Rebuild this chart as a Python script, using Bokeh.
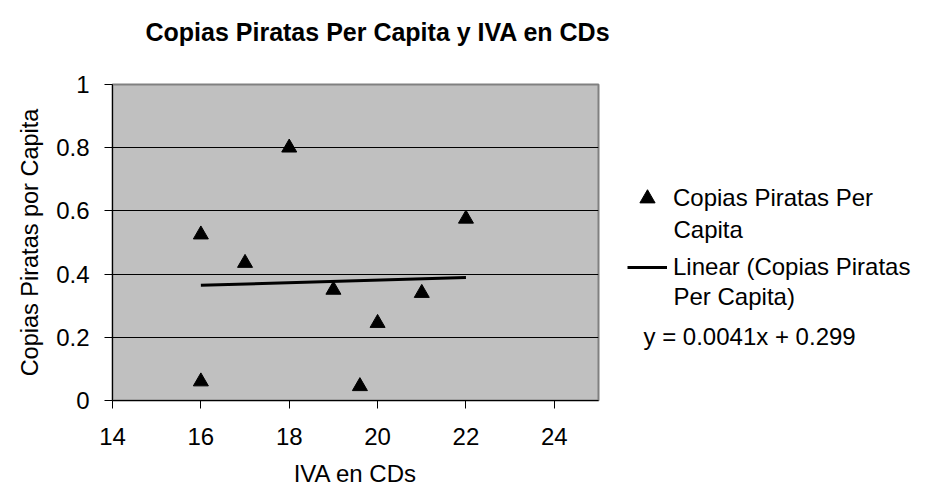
from bokeh.plotting import figure
from bokeh.layouts import row
from bokeh.models import (FixedTicker, NumeralTickFormatter, Legend, LegendItem,
                          Label, Range1d, Title)
from bokeh.embed import file_html
from bokeh.resources import INLINE

# ---- data ----
chart_title = "Copias Piratas Per Capita y IVA en CDs"
x_title = "IVA en CDs"
y_title = "Copias Piratas por Capita"
iva = [16, 16, 17, 18, 19, 19.6, 20, 21, 22]
copias = [0.525, 0.06, 0.435, 0.80, 0.35, 0.045, 0.245, 0.34, 0.575]
trend_slope = 0.0041
trend_intercept = 0.299
trend_text = "y = 0.0041x + 0.299"
series_lines = ["Copias Piratas Per", "Capita"]
trend_lines = ["Linear (Copias Piratas", "Per Capita)"]
x_ticks = [14, 16, 18, 20, 22, 24]
y_ticks = [0, 0.2, 0.4, 0.6, 0.8, 1]

FONT = "Liberation Sans"
H = 497

# ---- main chart ----
p = figure(width=620, height=H, x_range=Range1d(14, 25), y_range=Range1d(0, 1),
           output_backend="svg", toolbar_location=None,
           min_border_left=112, min_border_right=22,
           min_border_top=84, min_border_bottom=97)

p.background_fill_color = "#C0C0C0"
p.border_fill_color = "white"
p.outline_line_color = "#808080"
p.outline_line_width = 2

# spacer panel between the frame and the title
p.add_layout(Title(text=" ", text_font_size="1px", standoff=36), "above")

p.title.text = chart_title
p.title.text_font = FONT
p.title.text_font_size = "25px"
p.title.text_font_style = "bold"
p.title.text_color = "black"
p.title.align = "left"
p.title.offset = 33
p.title.standoff = 0

p.xgrid.visible = False
p.ygrid.grid_line_color = "black"
p.ygrid.grid_line_width = 1

for ax in (p.xaxis[0], p.yaxis[0]):
    ax.axis_line_color = "black"
    ax.major_tick_line_color = "black"
    ax.minor_tick_line_color = None
    ax.major_tick_in = 0
    ax.major_tick_out = 8
    ax.major_label_text_font = FONT
    ax.major_label_text_font_size = "24px"
    ax.major_label_text_color = "black"
    ax.axis_label_text_font = FONT
    ax.axis_label_text_font_size = "24px"
    ax.axis_label_text_font_style = "normal"
    ax.axis_label_text_color = "black"

p.yaxis.axis_label_text_font_size = "23.5px"
p.xaxis.ticker = FixedTicker(ticks=x_ticks)
p.yaxis.ticker = FixedTicker(ticks=y_ticks)
p.yaxis.formatter = NumeralTickFormatter(format="0.[0]")
p.xaxis.axis_label = x_title
p.yaxis.axis_label = y_title
p.xaxis.major_label_standoff = 19
p.yaxis.major_label_standoff = 15
p.xaxis.axis_label_standoff = 12
p.yaxis.axis_label_standoff = 10

sc = p.scatter(iva, copias, marker="triangle", size=15, color="black")
tx = [min(iva), max(iva)]
ty = [trend_slope * v + trend_intercept for v in tx]
ln = p.line(tx, ty, line_width=3, color="black")

# ---- legend panel (same glyph styles; its data lies outside its own ranges) ----
q = figure(width=310, height=H, x_range=Range1d(0, 1), y_range=Range1d(0, 1),
           output_backend="svg", toolbar_location=None,
           x_axis_type=None, y_axis_type=None,
           min_border_left=0, min_border_right=0, min_border_top=84, min_border_bottom=97)
q.outline_line_color = None
q.xgrid.visible = False
q.ygrid.visible = False
q.background_fill_color = "white"
q.border_fill_color = "white"

lsc = q.scatter(iva, copias, marker="triangle", size=15, color="black")
lln = q.line(tx, ty, line_width=3, color="black")

legend = Legend(items=[LegendItem(label=series_lines[0], renderers=[lsc], index=0),
                       LegendItem(label=trend_lines[0], renderers=[lln])],
                location=(7, 114), background_fill_alpha=0, border_line_alpha=0,
                padding=0, margin=0, spacing=31, glyph_width=40, glyph_height=38,
                label_height=38, label_standoff=6, label_text_font=FONT,
                label_text_font_size="24px", label_text_color="black")
q.add_layout(legend)

for txt, x, y in [(series_lines[1], 53, 171), (trend_lines[1], 53, 104), (trend_text, 23, 64)]:
    q.add_layout(Label(x=x, y=y, x_units="screen", y_units="screen", text=txt,
                       text_baseline="middle", text_font=FONT, text_font_size="24px",
                       text_color="black"))

layout = row(p, q)
open("out.html", "w").write(file_html(layout, INLINE))
